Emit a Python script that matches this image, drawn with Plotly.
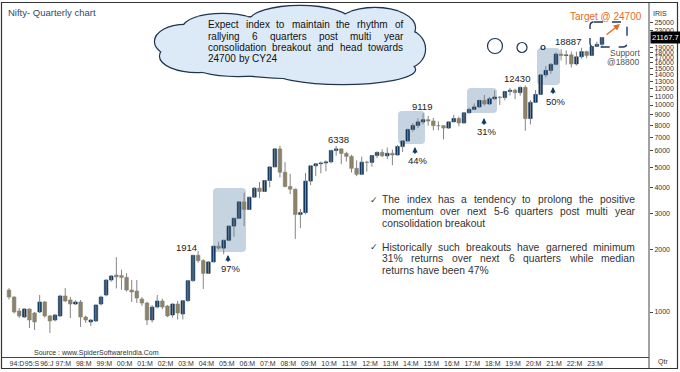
import math
import plotly.graph_objects as go

# ---------------- data : Nifty quarterly candles, Dec-1994 .. Dec-2023 ----------------
opens = [1277, 1182, 1011, 946, 1034, 989, 1000, 1118, 957, 915,
         957, 1195, 1143, 1093, 1118, 946, 895, 905, 1093, 1208,
         1427, 1509, 1500, 1470, 1277, 1263, 1155, 1105, 915, 1057,
         1130, 1069, 967, 1093, 978, 1134, 1417, 1879, 1771, 1537,
         1745, 2080, 2035, 2221, 2601, 2837, 3403, 3128, 3588, 3966,
         3822, 4318, 5021, 6139, 4735, 4040, 3921, 2959, 3021, 4291,
         5084, 5201, 5249, 5313, 6030, 6135, 5834, 5647, 4943, 4624,
         5296, 5279, 5703, 5905, 5683, 5842, 5735, 6304, 6704, 7611,
         7965, 8283, 8491, 8369, 7949, 7946, 7738, 8288, 8611, 8186,
         9174, 9521, 9789, 10531, 10114, 10714, 10930, 10863, 11624, 11789,
         11474, 12168, 8598, 10302, 11248, 13982, 14691, 15722, 17618, 17354,
         17465, 15780, 17094, 18105, 17360, 19189, 19638]
highs = [1305, 1190, 1045, 1045, 1040, 1000, 1208, 1130, 968, 980,
         1210, 1305, 1182, 1140, 1143, 960, 925, 1090, 1200, 1440,
         1510, 1840, 1600, 1540, 1427, 1427, 1180, 1120, 1080, 1208,
         1160, 1080, 1100, 1130, 1140, 1430, 1890, 1972, 1800, 1760,
         2090, 2184, 2230, 2620, 2850, 3420, 3774, 3600, 4015, 4245,
         4335, 5055, 6185, 6357, 5298, 4650, 3950, 3147, 4693, 5088,
         5221, 5329, 5400, 6073, 6338, 6181, 5944, 5740, 5400, 5630,
         5379, 5735, 5965, 6112, 6229, 6093, 6415, 6730, 7700, 8180,
         8627, 9119, 8845, 8655, 8336, 7973, 8308, 8968, 8806, 9218,
         9709, 10179, 10552, 11171, 10929, 11760, 11035, 11630, 12103, 11981,
         12294, 12430, 10554, 11794, 14024, 15432, 15916, 17948, 18604, 18351,
         18114, 18096, 18887, 18265, 19201, 20222, 21200]
lows = [1150, 985, 935, 935, 837, 819, 990, 940, 792, 900,
        946, 1118, 935, 1080, 846, 885, 855, 895, 1075, 1190,
        1400, 1300, 1280, 1255, 1118, 1105, 1070, 865, 890, 1040,
        1030, 945, 940, 920, 920, 1120, 1400, 1730, 1292, 1530,
        1740, 2000, 1900, 2200, 2307, 2830, 2595, 3110, 3560, 3554,
        3800, 4000, 5000, 4468, 4000, 3715, 2253, 2539, 2965, 4100,
        4538, 4675, 4786, 5225, 5690, 5177, 5329, 4720, 4531, 4588,
        4770, 5033, 5549, 5604, 5477, 5118, 5700, 5933, 6650, 7422,
        7723, 8065, 7940, 7540, 7551, 6826, 7678, 8287, 7894, 8133,
        9075, 9448, 9688, 9951, 9998, 10640, 10005, 10534, 11108, 10670,
        11090, 7511, 8056, 10300, 11200, 13597, 14151, 15514, 16410, 15671,
        15183, 15512, 16748, 16828, 17312, 19100, 18838]
closes = [1182, 1000, 957, 1034, 915, 895, 1118, 957, 905, 967,
          1195, 1130, 1093, 1118, 946, 915, 915, 1081, 1182, 1427,
          1493, 1478, 1470, 1277, 1250, 1168, 1105, 915, 1057, 1130,
          1057, 957, 1093, 989, 1134, 1417, 1879, 1771, 1537, 1745,
          2080, 2035, 2221, 2601, 2837, 3403, 3128, 3588, 3966, 3822,
          4318, 5021, 6139, 4735, 4040, 3921, 2959, 3021, 4291, 5084,
          5201, 5249, 5313, 6030, 6135, 5834, 5647, 4943, 4624, 5296,
          5279, 5703, 5905, 5683, 5842, 5735, 6304, 6704, 7611, 7965,
          8283, 8491, 8369, 7949, 7946, 7738, 8288, 8611, 8186, 9174,
          9521, 9789, 10531, 10114, 10714, 10930, 10863, 11624, 11789, 11474,
          12168, 8598, 10302, 11248, 13982, 14691, 15722, 17618, 17354, 17465,
          15780, 17094, 18105, 17360, 19189, 19638, 21168]
last_price = 21167.7

tick_pos = [0, 3, 6, 9, 13, 17, 21, 25, 29, 33, 37, 41, 45, 49, 53, 57, 61, 65,
            69, 73, 77, 81, 85, 89, 93, 97, 101, 105, 109, 113]
tick_text = ["94:D", "95:S", "96:J", "97:M", "98:M", "99:M", "00:M", "01:M", "02:M",
             "03:M", "04:M", "05:M", "06:M", "07:M", "08:M", "09:M", "10:M", "11:M",
             "12:M", "13:M", "14:M", "15:M", "16:M", "17:M", "18:M", "19:M", "20:M",
             "21:M", "22:M", "23:M"]
y_ticks = [1000, 2000, 3000, 4000, 5000, 6000, 7000, 8000, 9000, 10000, 11000, 12000,
           13000, 14000, 15000, 16000, 17000, 18000, 19000, 23000, 25000]

# breakout levels (value, start quarter, end quarter, label quarter)
levels = [1914, 6338, 9119, 12430, 18887]
level_start = [20.3, 52.2, 80.2, 95.5, 105.8]
level_end = [41.3, 76.1, 89.6, 104.3, 114.2]
level_label_q = [34.8, 64.4, 80.8, 99.4, 109.4]
target = 24700
support = 18800
rally_pct = ["97%", "44%", "31%", "50%"]

# ---------------- styling helpers ----------------
UP, DOWN, WICK = "#103a63", "#8b8064", "#858585"
ORANGE, NAVY = "#e46c28", "#1f3a5c"
FONT = "Liberation Sans, Arial, sans-serif"
NARROW = "Liberation Sans Narrow, Arial Narrow, Liberation Sans, sans-serif"

W, H = 680, 372
PL, PR, PT, PB = 2, 649, 3, 357


def px(x):
    return (x - PL) / (PR - PL)


def py(y):
    return (PB - y) / (PB - PT)


AW = {}
for chars, w in [(" ", 278), ("ijl", 222), ("ft", 278), ("r", 333), ("csvxyzk", 500),
                 ("abdeghnopqu", 556), ("m", 833), ("w", 722), ("0123456789", 556),
                 ("-", 333), ("%", 889), ("@", 1015), ("E", 667), ("T", 611), ("H", 722),
                 ("C", 722), ("Y", 667), (".", 278)]:
    for ch in chars:
        AW[ch] = w


def tw(s, size):
    return sum(AW.get(ch, 556) for ch in s) / 1000.0 * size


annotations = []
shapes = []


def label(x, y, text, size, color, xanchor="left", family=FONT, **kw):
    d = dict(xref="paper", yref="paper", x=px(x), y=py(y), text=text, xanchor=xanchor,
             yanchor="middle", showarrow=False, borderpad=0,
             font=dict(family=family, size=size, color=color))
    d.update(kw)
    annotations.append(d)


def text_line(line, x0, x1, y, size, color, justify):
    words = line.split(" ")
    widths = [tw(w, size) for w in words]
    if justify and len(words) > 1:
        gap = (x1 - x0 - sum(widths)) / (len(words) - 1)
    else:
        gap = tw(" ", size)
    x = x0
    for w, wd in zip(words, widths):
        label(x, y, w, size, color)
        x += wd + gap


def rrect(x0, y0, x1, y1, r):
    P = lambda x, y: f"{px(x):.5f},{py(y):.5f}"
    return (f"M{P(x0 + r, y0)} L{P(x1 - r, y0)} Q{P(x1, y0)} {P(x1, y0 + r)} "
            f"L{P(x1, y1 - r)} Q{P(x1, y1)} {P(x1 - r, y1)} L{P(x0 + r, y1)} "
            f"Q{P(x0, y1)} {P(x0, y1 - r)} L{P(x0, y0 + r)} Q{P(x0, y0)} {P(x0 + r, y0)} Z")


# ---------------- traces ----------------
q = list(range(len(closes)))
wx, wy = [], []
for i, (h, l) in enumerate(zip(highs, lows)):
    wx += [i, i, None]
    wy += [l, h, None]

colors = [UP if c >= o else DOWN for o, c in zip(opens, closes)]
fig = go.Figure()
fig.add_trace(go.Scatter(x=wx, y=wy, mode="lines", line=dict(color=WICK, width=1),
                         hoverinfo="skip", showlegend=False))
fig.add_trace(go.Bar(x=q, base=[min(o, c) for o, c in zip(opens, closes)],
                     y=[max(abs(c - o), 0.5) for o, c in zip(opens, closes)],
                     width=0.7, marker=dict(color=colors, line=dict(color=colors, width=0.6)),
                     showlegend=False))

# ---------------- decorations ----------------
# shaded rally windows
for (x0, y0, x1, y1) in [(213, 188, 246, 252), (398, 111, 425, 144),
                         (467, 88, 497, 113), (537, 48, 560, 85)]:
    shapes.append(dict(type="path", xref="paper", yref="paper", path=rrect(x0, y0, x1, y1, 4),
                       fillcolor="#c6d3e0", line=dict(width=0), layer="below"))

# breakout level lines + labels
for lv, s, e, lq in zip(levels, level_start, level_end, level_label_q):
    shapes.append(dict(type="line", xref="x", yref="y", x0=s, x1=e,
                       y0=math.log10(lv), y1=math.log10(lv),
                       line=dict(color=ORANGE, width=1, dash="2px,1.5px")))
    annotations.append(dict(xref="x", yref="y", x=lq, y=math.log10(lv), text=str(lv),
                            xanchor="center", yanchor="bottom", showarrow=False, borderpad=0,
                            font=dict(family=FONT, size=9.5, color="#222")))

# rally arrows and percentages
for pct, (ax_, ahead, ttx, tty) in zip(rally_pct, [(228, 255, 231, 268), (415, 147, 418, 160),
                                                    (484, 118, 487, 131), (553, 87, 556, 101)]):
    annotations.append(dict(xref="paper", yref="paper", x=px(ax_), y=py(ahead), text="",
                            showarrow=True, ax=0, ay=8, arrowhead=2, arrowsize=0.6,
                            arrowwidth=1.8, arrowcolor=UP))
    label(ttx, tty, pct, 9.5, "#222", xanchor="center")

# target box / lines
shapes.append(dict(type="path", xref="paper", yref="paper", path=rrect(590, 22, 627, 47, 4),
                   line=dict(color=NAVY, width=1.4, dash="dash")))
shapes.append(dict(type="line", xref="paper", yref="y", x0=px(627), x1=px(652),
                   y0=math.log10(target), y1=math.log10(target),
                   line=dict(color=ORANGE, width=1, dash="2px,1.5px")))
shapes.append(dict(type="line", xref="paper", yref="y", x0=px(632), x1=px(640),
                   y0=math.log10(support), y1=math.log10(support),
                   line=dict(color="#111", width=1.5)))
annotations.append(dict(xref="paper", yref="paper", x=px(620), y=py(24), text="",
                        showarrow=True, ax=-15, ay=12, arrowhead=2, arrowsize=0.9,
                        arrowwidth=1.4, arrowcolor=ORANGE))
label(606, 16, f"Target @ {target}", 10, ORANGE, xanchor="center")
label(641, 53, "Support", 8.5, "#555", xanchor="right")
label(641, 62, f"@{support}", 8.5, "#555", xanchor="right")

# thought cloud
cloud = [(180, 15, 410, 78), (155, 25, 215, 58), (160, 40, 235, 72), (183, 14, 262, 42),
         (250, 6, 350, 36), (335, 8, 415, 48), (385, 30, 425, 68), (270, 55, 415, 84),
         (190, 50, 285, 76)]
for lw in (2.4, 0):
    for (x0, y0, x1, y1) in cloud:
        shapes.append(dict(type="circle", xref="paper", yref="paper", x0=px(x0), x1=px(x1),
                           y0=py(y1), y1=py(y0), fillcolor="#dce9f6",
                           line=dict(color="#1f3550", width=lw)))
for (cx, cy, r) in [(495, 46, 7.5), (522, 47.5, 5), (543, 47.5, 2)]:
    shapes.append(dict(type="circle", xref="paper", yref="paper", x0=px(cx - r), x1=px(cx + r),
                       y0=py(cy + r), y1=py(cy - r), fillcolor="white",
                       line=dict(color="#1f3550", width=1.2)))

cloud_lines = ["Expect index to maintain the rhythm of",
               "rallying 6 quarters post multi year",
               "consolidation breakout and head towards",
               "24700 by CY24"]
for k, ln in enumerate(cloud_lines):
    text_line(ln, 207, 402, 25 + 11.2 * k, 10, "#111", k < 3)

bullets = [["The index has a tendency to prolong the positive",
            "momentum over next 5-6 quarters post multi year",
            "consolidation breakout"],
           ["Historically such breakouts have garnered minimum",
            "31% returns over next 6 quarters while median",
            "returns have been 47%"]]
for para, y0 in zip(bullets, [200, 247]):
    label(369, y0, "\u2713", 9, "#333", family="DejaVu Sans")
    for k, ln in enumerate(para):
        text_line(ln, 381, 634, y0 + 11.5 * k, 10.3, "#333", k < len(para) - 1)

# titles / misc text
label(7, 13, "Nifty- Quarterly chart", 9.5, "#2d4a6b")
label(33, 352.5, "Source : www.SpiderSoftwareIndia.Com", 7, "#333", family=NARROW)
label(652, 14, "IRIS", 7, "#333", family=NARROW)
label(657, 362, "Qtr", 7, "#333", family=NARROW)
annotations.append(dict(xref="paper", yref="y", x=px(650), y=math.log10(last_price),
                        text=f"{last_price}", xanchor="left", yanchor="middle",
                        showarrow=False, bgcolor="black", borderpad=1,
                        font=dict(family=NARROW, size=7.5, color="white")))

# frame and right axis divider
shapes.append(dict(type="rect", xref="paper", yref="paper", x0=px(1.5), x1=px(677.5),
                   y0=py(368.5), y1=py(2.5), line=dict(color="#333", width=1.2)))
shapes.append(dict(type="line", xref="paper", yref="paper", x0=px(649), x1=px(649),
                   y0=py(368.5), y1=py(2.5), line=dict(color="#444", width=1)))

ymin = 3 - (PB - 312) / 207.0
ymax = 3 + (312 - PT) / 207.0
xmin = (PL - 9) / 5.112
xmax = (PR - 9) / 5.112

fig.update_layout(
    width=W, height=H,
    margin=dict(l=PL, r=W - PR, t=PT, b=H - PB, autoexpand=False),
    paper_bgcolor="white", plot_bgcolor="rgba(0,0,0,0)", showlegend=False,
    shapes=shapes, annotations=annotations,
    xaxis=dict(range=[xmin, xmax], tickvals=tick_pos, ticktext=tick_text, ticks="",
               tickangle=0, ticklabelposition="outside right", showgrid=False,
               zeroline=False, showline=True, linecolor="#444", linewidth=1,
               automargin=False, tickfont=dict(family=NARROW, size=7, color="#333")),
    yaxis=dict(type="log", range=[ymin, ymax], side="right", tickvals=y_ticks,
               ticktext=[str(v) for v in y_ticks], ticks="outside", ticklen=3,
               tickcolor="#444", showgrid=False, zeroline=False, showline=False,
               automargin=False, tickfont=dict(family=NARROW, size=7, color="#333")),
)

fig.write_html("out.html", config={"displayModeBar": False},
               post_script="document.body.style.margin='0';document.body.style.overflow='hidden';")
